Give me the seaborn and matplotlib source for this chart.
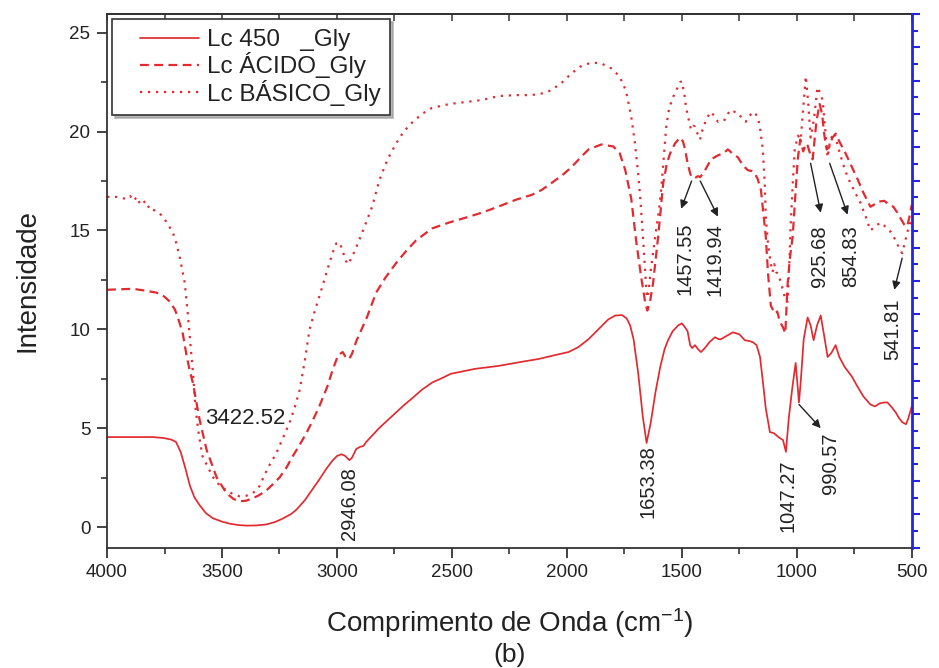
import matplotlib
matplotlib.use("Agg")
import matplotlib.pyplot as plt
from matplotlib.ticker import MultipleLocator, NullFormatter
from matplotlib.legend_handler import HandlerLine2D
from matplotlib.lines import Line2D
import numpy as np
import pandas as pd
import seaborn as sns

# ---- FTIR spectra: wavenumber (cm-1) and intensity ----
lc450_x = [4000, 3900, 3800, 3753, 3720, 3700, 3680, 3660, 3640, 3620, 3597, 3570,
           3541, 3502, 3467, 3430, 3393, 3350, 3307, 3270, 3237, 3200, 3176, 3140,
           3107, 3077, 3046, 3020, 2999, 2980, 2965, 2946.08, 2935, 2916, 2900, 2885,
           2873, 2845, 2817, 2780, 2743, 2710, 2674, 2630, 2587, 2540, 2505, 2400,
           2297, 2200, 2123, 2050, 1993, 1950, 1906, 1863, 1820, 1789, 1760, 1740,
           1725, 1710, 1690, 1670, 1653.38, 1635, 1615, 1594, 1575, 1560, 1540, 1516,
           1500, 1486, 1475, 1464, 1455, 1443, 1430, 1417, 1400, 1380, 1356, 1340,
           1330, 1300, 1278, 1250, 1226, 1205, 1191, 1175, 1160, 1148, 1135, 1117,
           1100, 1085, 1074, 1060, 1047.27, 1035, 1020, 1005, 997, 990.57, 982, 970,
           953, 940, 927, 912, 896, 880, 866, 850, 831, 815, 792, 760, 736, 710, 680,
           660, 640, 620, 606, 590, 570, 555, 541, 525, 515, 505, 500]
lc450_y = [4.55, 4.55, 4.55, 4.5, 4.42, 4.3, 3.8, 3.0, 2.1, 1.5, 1.1, 0.7,
           0.45, 0.28, 0.17, 0.1, 0.07, 0.08, 0.13, 0.25, 0.42, 0.65, 0.88, 1.35,
           1.9, 2.4, 2.95, 3.35, 3.6, 3.68, 3.6, 3.38, 3.5, 3.95, 4.05, 4.1,
           4.3, 4.65, 5.0, 5.4, 5.8, 6.15, 6.5, 6.95, 7.3, 7.55, 7.75, 8.0,
           8.15, 8.35, 8.5, 8.7, 8.85, 9.1, 9.5, 10.0, 10.5, 10.7, 10.72, 10.55,
           10.2, 9.5, 7.8, 5.6, 4.25, 5.3, 6.8, 8.1, 9.0, 9.45, 9.9, 10.2,
           10.3, 10.1, 9.9, 9.2, 9.05, 9.2, 9.0, 8.85, 9.05, 9.35, 9.6, 9.5,
           9.5, 9.7, 9.85, 9.75, 9.45, 9.4, 9.35, 9.2, 8.6, 7.4, 6.0, 4.8,
           4.75, 4.6, 4.5, 4.4, 3.8, 5.5, 7.0, 8.3, 7.2, 6.3, 7.5, 9.5,
           10.6, 10.2, 9.45, 10.2, 10.7, 9.6, 8.6, 8.8, 9.2, 8.6, 8.1, 7.6, 7.1, 6.6, 6.2,
           6.1, 6.25, 6.3, 6.3, 6.1, 5.8, 5.5, 5.3, 5.2, 5.5, 5.9, 6.1]

acido_x = [4000, 3950, 3887, 3830, 3783, 3750, 3727, 3705, 3692, 3671, 3653, 3640,
           3627, 3597, 3567, 3523, 3480, 3450, 3424, 3395, 3367, 3340, 3307, 3280,
           3250, 3220, 3194, 3160, 3133, 3105, 3077, 3042, 3020, 2995, 2975, 2960,
           2947, 2935, 2916, 2870, 2830, 2790, 2743, 2700, 2656, 2587, 2513, 2440,
           2370, 2300, 2223, 2153, 2110, 2067, 2020, 1980, 1940, 1906, 1850, 1798,
           1770, 1746, 1720, 1698, 1677, 1660, 1650, 1637, 1625, 1603, 1581, 1565,
           1551, 1530, 1508, 1495, 1486, 1475, 1464, 1457.55, 1443, 1430, 1419.94,
           1399, 1373, 1343, 1320, 1300, 1280, 1256, 1235, 1213, 1195, 1183, 1170,
           1156, 1145, 1135, 1125, 1113, 1096, 1085, 1074, 1060, 1050, 1040, 1030,
           1018, 1005, 996, 985, 972, 960, 953, 940, 931, 915, 901, 890, 880, 870,
           860, 845, 831, 815, 792, 760, 736, 710, 680, 665, 650, 620, 597, 580,
           563, 548, 533, 520, 510, 500]
acido_y = [12.0, 12.02, 12.05, 11.95, 11.85, 11.65, 11.4, 11.0, 10.6, 9.8, 8.6, 7.9,
           7.3, 5.4, 3.9, 2.5, 1.7, 1.42, 1.3, 1.33, 1.45, 1.6, 1.85, 2.15,
           2.5, 3.0, 3.55, 4.2, 4.75, 5.4, 6.1, 7.1, 7.9, 8.7, 8.85, 8.55,
           8.5, 8.75, 9.4, 10.6, 11.85, 12.6, 13.35, 13.95, 14.5, 15.1, 15.4, 15.65,
           15.9, 16.2, 16.55, 16.8, 17.05, 17.4, 17.8, 18.2, 18.7, 19.1, 19.35, 19.25,
           18.9, 18.05, 16.6, 14.4, 12.65, 11.4, 10.95, 11.5, 12.35, 14.7, 17.4, 18.4,
           18.9, 19.4, 19.7, 19.5, 19.1, 18.4, 17.9, 17.7, 17.65, 17.75, 17.7,
           18.05, 18.6, 18.8, 18.9, 19.1, 18.9, 18.7, 18.3, 18.05, 18.0, 17.9, 17.6,
           17.05, 15.8, 14.7, 12.8, 11.2, 10.8, 10.9, 10.4, 10.1, 9.8, 12.3, 13.6,
           14.7, 17.0, 18.6, 19.6, 19.0, 19.4, 19.3, 18.8, 18.6, 20.5, 21.4, 20.9, 19.8, 19.1,
           19.2, 19.7, 19.9, 19.5, 19.0, 18.2, 17.6, 16.9, 16.2, 16.3, 16.45, 16.5, 16.3, 16.2,
           15.9, 15.6, 15.3, 15.2, 15.7, 16.3]

basico_x = [4000, 3950, 3920, 3900, 3885, 3870, 3857, 3840, 3825, 3814, 3800, 3780,
            3757, 3740, 3714, 3700, 3684, 3662, 3649, 3636, 3627, 3615, 3600, 3584,
            3560, 3541, 3510, 3480, 3450, 3422.52, 3395, 3367, 3340, 3324, 3300, 3263,
            3235, 3207, 3185, 3163, 3140, 3120, 3100, 3077, 3055, 3033, 3015, 3003,
            2990, 2981, 2965, 2955, 2947, 2935, 2925, 2890, 2870, 2847, 2817, 2780,
            2743, 2710, 2674, 2630, 2587, 2510, 2440, 2370, 2297, 2223, 2153, 2100,
            2067, 2020, 1980, 1940, 1893, 1850, 1807, 1780, 1755, 1738, 1720, 1705,
            1690, 1680, 1668, 1660, 1652, 1645, 1635, 1616, 1600, 1590, 1578, 1568,
            1555, 1538, 1520, 1508, 1500, 1495, 1488, 1482, 1470, 1460, 1450, 1443,
            1432, 1421, 1410, 1399, 1385, 1373, 1360, 1343, 1330, 1313, 1300, 1287,
            1270, 1256, 1240, 1222, 1205, 1191, 1180, 1170, 1160, 1148, 1140, 1135,
            1125, 1113, 1105, 1098, 1090, 1080, 1070, 1058, 1048, 1040, 1033, 1027,
            1018, 1009, 995, 983, 972, 961, 950, 940, 925.68, 910, 900, 888, 877,
            866, 854.83, 836, 820, 800, 779, 750, 723, 700, 680, 660, 636, 615, 593,
            570, 555, 541.81, 528, 515, 500]
basico_y = [16.7, 16.7, 16.6, 16.75, 16.5, 16.7, 16.35, 16.5, 16.15, 16.25, 16.05, 15.95,
            15.7, 15.4, 14.9, 14.4, 13.65, 12.35, 10.8, 9.1, 7.9, 6.0, 4.6, 3.55,
            3.0, 2.55, 2.1, 1.85, 1.65, 1.55, 1.58, 1.7, 2.0, 2.4, 3.0, 3.75,
            4.5, 5.25, 6.0, 6.9, 8.4, 9.95, 10.8, 11.65, 12.5, 13.35, 14.0, 14.35,
            14.4, 14.15, 13.6, 13.3, 13.35, 13.7, 13.9, 14.9, 15.5, 16.2, 17.5, 18.6,
            19.4, 20.0, 20.45, 20.9, 21.2, 21.4, 21.5, 21.6, 21.8, 21.85, 21.85, 21.95,
            22.1, 22.5, 22.95, 23.3, 23.5, 23.45, 23.2, 22.9, 22.45, 21.8, 20.75, 19.5,
            17.9, 16.5, 14.5, 13.0, 11.6, 11.9, 13.0, 14.7, 16.0, 17.05, 18.8, 20.25,
            21.2, 21.75, 22.2, 22.5, 22.55, 22.25, 21.8, 21.25, 20.6, 20.1, 20.3, 20.25,
            19.9, 19.6, 20.1, 20.45, 20.8, 21.0, 20.8, 20.5, 20.6, 20.6, 20.9, 21.1,
            21.0, 20.95, 20.7, 20.5, 20.8, 21.0, 20.9, 20.75, 20.2, 19.1, 17.5, 15.7,
            14.3, 13.3, 12.9, 13.3, 12.9, 12.8, 12.4, 11.9, 11.4, 11.4, 13.2, 15.2,
            17.3, 19.1, 19.8, 19.6, 21.2, 22.8, 21.4, 19.7, 20.6, 22.25, 22.0, 21.6, 20.2,
            18.7, 19.6, 19.95, 19.2, 18.4, 17.7, 17.0, 16.4, 15.7, 15.0, 15.2, 15.4, 15.2, 14.95,
            14.5, 14.1, 13.85, 14.5, 15.1, 15.6]

series_labels = ["Lc 450   _Gly", "Lc ÁCIDO_Gly", "Lc BÁSICO_Gly"]

# Peak labels: text, position of label centre, optional arrow (tail -> head)
peak_text = ["3422.52", "2946.08", "1653.38", "1047.27", "990.57",
             "1457.55", "1419.94", "925.68", "854.83", "541.81"]
peak_text_x = [3575, 2947, 1648, 1040, 853, 1486, 1356, 901, 766, 584]
peak_text_y = [5.5, 1.2, 2.3, 1.6, 3.25, 13.55, 13.55, 13.7, 13.7, 10.0]
arrow_tail = [None, None, None, None, (990.57, 6.2), (1457.55, 17.5),
              (1419.94, 17.5), (940, 18.4), (857, 18.4), (541.81, 13.6)]
arrow_head = [None, None, None, None, (896, 5.0), (1503, 16.1),
              (1343, 15.7), (896, 15.9), (779, 15.8), (576, 12.0)]

RED = "#e22a30"
INK = "#222222"

sns.set_theme(style="ticks")
plt.rcParams["font.family"] = ["Liberation Sans", "DejaVu Sans"]
plt.rcParams["mathtext.default"] = "regular"

fig = plt.figure(figsize=(9.39, 6.68), dpi=100)
ax = fig.add_axes([0.114, 0.180, 0.857, 0.799])

styles = [dict(linestyle="-", linewidth=1.25),
          dict(linestyle=(0, (4, 2.4)), linewidth=1.6),
          dict(linestyle=(0, (1, 2.6)), linewidth=1.6)]
for xs, ys, lab, st in zip([lc450_x, acido_x, basico_x],
                           [lc450_y, acido_y, basico_y], series_labels, styles):
    df = pd.DataFrame({"onda": xs, "intensidade": ys})
    sns.lineplot(data=df, x="onda", y="intensidade", ax=ax, color=RED,
                 estimator=None, sort=False, label=lab, **st)

ax.set_xlim(4000, 500)
ax.set_ylim(-1.05, 25.95)
ax.xaxis.set_major_locator(MultipleLocator(500))
ax.xaxis.set_minor_locator(MultipleLocator(250))
ax.yaxis.set_major_locator(MultipleLocator(5))
ax.yaxis.set_minor_locator(MultipleLocator(2.5))
ax.tick_params(axis="both", which="major", direction="out", length=7, width=1.2,
               labelsize=13.5, colors=INK, pad=5)
ax.tick_params(axis="both", which="minor", direction="out", length=4, width=1.1,
               colors=INK)
ax.tick_params(axis="x", top=False)
for side in ["left", "bottom", "top"]:
    ax.spines[side].set_color("#333333")
    ax.spines[side].set_linewidth(1.3)
ax.spines["right"].set_visible(False)

# inward ticks along the top edge
top = ax.secondary_xaxis("top")
top.xaxis.set_major_locator(MultipleLocator(250))
top.xaxis.set_major_formatter(NullFormatter())
top.tick_params(direction="in", length=5, width=1.1, colors="#333333")
top.spines["top"].set_color("#333333")
top.spines["top"].set_linewidth(1.3)

# blue right-hand axis
blue = "#2525e0"
ax2 = ax.twinx()
ax2.set_ylim(0, 32)
ax2.yaxis.set_major_locator(MultipleLocator(2))
ax2.yaxis.set_minor_locator(MultipleLocator(1))
ax2.yaxis.set_major_formatter(NullFormatter())
ax2.tick_params(axis="y", which="major", direction="out", length=6, width=1.5, colors=blue)
ax2.tick_params(axis="y", which="minor", direction="out", length=4, width=1.5, colors=blue)
ax2.spines["right"].set_color(blue)
ax2.spines["right"].set_linewidth(2)
for side in ["left", "top", "bottom"]:
    ax2.spines[side].set_visible(False)
ax2.grid(False)

ax.set_xlabel(r"Comprimento de Onda (cm$^{-1}$)", fontsize=20, color=INK, labelpad=18)
ax.set_ylabel("Intensidade", fontsize=20, color=INK, labelpad=21)
fig.text(0.543, 0.02, "(b)", fontsize=19, color=INK, ha="center", va="center")

for txt, tx, ty, tail, head in zip(peak_text, peak_text_x, peak_text_y,
                                   arrow_tail, arrow_head):
    rot = 0 if txt == "3422.52" else 90
    ha = "left" if rot == 0 else "center"
    ax.text(tx, ty, txt, rotation=rot, ha=ha, va="center",
            fontsize=16 if rot == 0 else 14.5, color=INK)
    if tail is not None:
        ax.annotate("", xy=head, xytext=tail,
                    arrowprops=dict(arrowstyle="-|>", color="#222222", lw=1.0,
                                    mutation_scale=12, shrinkA=0, shrinkB=0))

handles, labels = ax.get_legend_handles_labels()
leg = ax.legend(handles, labels, loc="upper left", bbox_to_anchor=(0.006, 0.99),
                borderaxespad=0, frameon=True, fancybox=False, fontsize=17.5,
                handlelength=3.2, handletextpad=0.3, labelspacing=0.05,
                borderpad=0.4, shadow={"color": "#9a9a9a", "alpha": 0.7},
                handler_map={Line2D: HandlerLine2D(xpad=0.75)})
leg.get_frame().set_edgecolor("#333333")
leg.get_frame().set_linewidth(1.2)
for t in leg.get_texts():
    t.set_color(INK)
ax.grid(False)

fig.savefig("out.png", dpi=100)
